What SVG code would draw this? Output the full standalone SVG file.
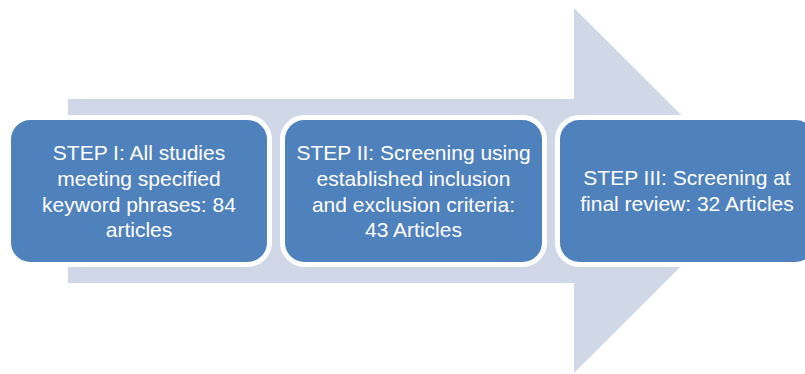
<svg xmlns="http://www.w3.org/2000/svg" width="805" height="374" viewBox="0 0 805 374">
  <style>
    .bg { fill: #ffffff; }
    .flow { fill: #D0D8E8; }
    .step rect { fill: #4F81BD; stroke: #ffffff; stroke-width: 5; }
    .step text { fill: #ffffff; font-family: "Liberation Sans", Arial, sans-serif; font-size: 21px; text-anchor: middle; }
  </style>
  <rect class="bg" x="0" y="0" width="805" height="374"/>

  <!-- background process arrow -->
  <g id="connectors">
    <polygon class="flow" points="68,99 574,99 574,8 757,190.5 574,373 574,283 68,283"/>
  </g>

  <g id="step1" class="step">
    <rect x="8.5" y="117.5" width="261" height="147" rx="22" ry="22"/>
    <text x="139" y="160">STEP I: All studies</text>
    <text x="139" y="186">meeting specified</text>
    <text x="139" y="211.5">keyword phrases: 84</text>
    <text x="139" y="237">articles</text>
  </g>

  <g id="step2" class="step">
    <rect x="282.5" y="117.5" width="262" height="147" rx="22" ry="22"/>
    <text x="413.5" y="160">STEP II: Screening using</text>
    <text x="413.5" y="186">established inclusion</text>
    <text x="413.5" y="211.5">and exclusion criteria:</text>
    <text x="413.5" y="237">43 Articles</text>
  </g>

  <g id="step3" class="step">
    <rect x="557.5" y="117.5" width="260" height="147" rx="22" ry="22"/>
    <text x="687" y="185">STEP III: Screening at</text>
    <text x="687" y="211">final review: 32 Articles</text>
  </g>
</svg>
